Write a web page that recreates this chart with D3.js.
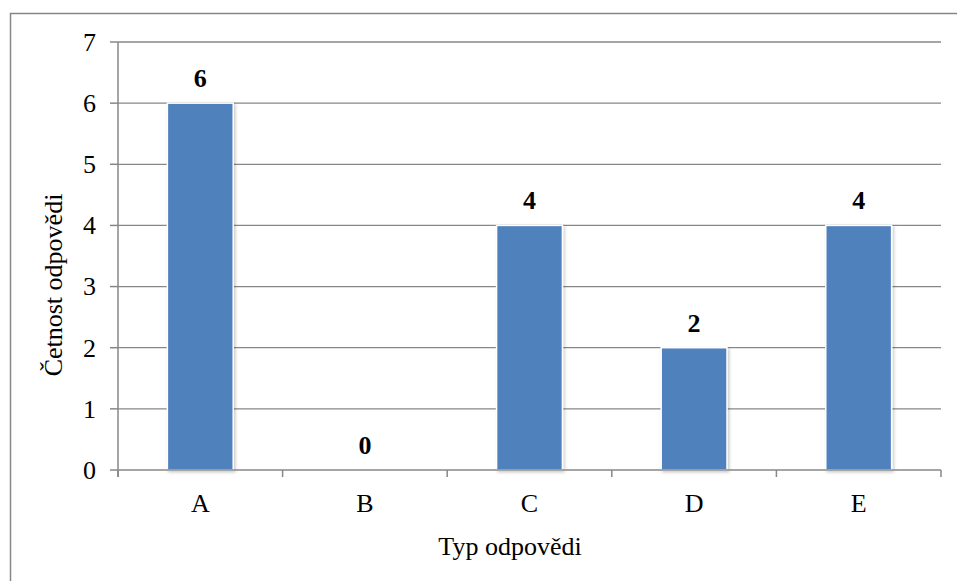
<!DOCTYPE html>
<html>
<head>
<meta charset="utf-8">
<script src="https://cdn.jsdelivr.net/npm/d3@7"></script>
<style>
  html, body { margin: 0; padding: 0; background: #fff; }
  svg text { font-family: 'Liberation Serif', 'Times New Roman', 'DejaVu Serif', serif; }
</style>
</head>
<body>
<svg id="chart" width="957" height="581"></svg>
<script>
// Response types and how often each one occurred
const categories = ["A", "B", "C", "D", "E"];
const counts = [6, 0, 4, 2, 4];
const yTicks = [0, 1, 2, 3, 4, 5, 6, 7];
const xTitle = "Typ odpovědi";
const yTitle = "Četnost odpovědi";

const serif = "Liberation Serif, Times New Roman, DejaVu Serif, serif";
const svg = d3.select("#chart");
const gray = "#878787";
const plot = { left: 118, right: 941, top: 42, bottom: 470 };

const x = d3.scaleBand().domain(categories).range([plot.left, plot.right]).padding(0);
const y = d3.scaleLinear().domain([0, 7]).range([plot.bottom, plot.top]);
const barW = x.bandwidth() / 2.5;

// soft shadow under the columns
const defs = svg.append("defs");
const f = defs.append("filter").attr("id", "shadow")
  .attr("x", "-20%").attr("y", "-20%").attr("width", "140%").attr("height", "140%");
f.append("feDropShadow").attr("dx", 1.5).attr("dy", 1.5).attr("stdDeviation", 1.5)
  .attr("flood-color", "#000").attr("flood-opacity", 0.22);

// outer frame of the chart area
svg.append("rect")
  .attr("x", 10.5).attr("y", 13.5).attr("width", 980).attr("height", 620)
  .attr("fill", "none").attr("stroke", gray).attr("stroke-width", 1.5);

// horizontal gridlines
svg.append("g").selectAll("line")
  .data(yTicks.filter(d => d > 0))
  .join("line")
  .attr("x1", plot.left).attr("x2", plot.right)
  .attr("y1", d => y(d)).attr("y2", d => y(d))
  .attr("stroke", gray).attr("stroke-width", 1.3);

// y axis line and tick marks
svg.append("line")
  .attr("x1", plot.left).attr("x2", plot.left)
  .attr("y1", plot.top).attr("y2", plot.bottom + 7)
  .attr("stroke", gray).attr("stroke-width", 1.5);
svg.append("g").selectAll("line")
  .data(yTicks)
  .join("line")
  .attr("x1", plot.left - 8).attr("x2", plot.left)
  .attr("y1", d => y(d)).attr("y2", d => y(d))
  .attr("stroke", gray).attr("stroke-width", 1.5);

// y tick labels
svg.append("g").selectAll("text")
  .data(yTicks)
  .join("text")
  .attr("x", 96).attr("y", d => y(d))
  .attr("dy", "0.34em")
  .attr("text-anchor", "end")
  .attr("font-family", serif)
  .attr("font-size", 26)
  .attr("fill", "#000")
  .text(d => d);

// columns
svg.append("g").selectAll("rect")
  .data(categories.map((c, i) => ({ c, v: counts[i] })).filter(d => d.v > 0))
  .join("rect")
  .attr("x", d => x(d.c) + x.bandwidth() / 2 - barW / 2)
  .attr("y", d => y(d.v))
  .attr("width", barW)
  .attr("height", d => y(0) - y(d.v))
  .attr("fill", "#4F81BD")
  .attr("stroke", "#fff").attr("stroke-width", 1.5)
  .attr("filter", "url(#shadow)");

// x axis line and category boundary ticks
svg.append("line")
  .attr("x1", plot.left).attr("x2", plot.right)
  .attr("y1", y(0)).attr("y2", y(0))
  .attr("stroke", gray).attr("stroke-width", 1.6);
const bounds = categories.map(c => x(c)).concat([plot.right]);
svg.append("g").selectAll("line")
  .data(bounds)
  .join("line")
  .attr("x1", d => d).attr("x2", d => d)
  .attr("y1", y(0)).attr("y2", y(0) + 7)
  .attr("stroke", gray).attr("stroke-width", 1.5);

// category labels
svg.append("g").selectAll("text")
  .data(categories)
  .join("text")
  .attr("x", d => x(d) + x.bandwidth() / 2)
  .attr("y", 512)
  .attr("text-anchor", "middle")
  .attr("font-family", serif)
  .attr("font-size", 26)
  .text(d => d);

// value labels above the columns
svg.append("g").selectAll("text")
  .data(categories.map((c, i) => ({ c, v: counts[i] })))
  .join("text")
  .attr("x", d => x(d.c) + x.bandwidth() / 2)
  .attr("y", d => y(d.v) - 16)
  .attr("text-anchor", "middle")
  .attr("font-family", serif)
  .attr("font-size", 26)
  .attr("font-weight", "bold")
  .text(d => d.v);

// axis titles
svg.append("text")
  .attr("x", 510)
  .attr("y", 555)
  .attr("text-anchor", "middle")
  .attr("font-family", serif)
  .attr("font-size", 26)
  .text(xTitle);

svg.append("text")
  .attr("transform", "translate(62,285) rotate(-90)")
  .attr("text-anchor", "middle")
  .attr("font-family", serif)
  .attr("font-size", 26)
  .text(yTitle);
</script>
</body>
</html>
